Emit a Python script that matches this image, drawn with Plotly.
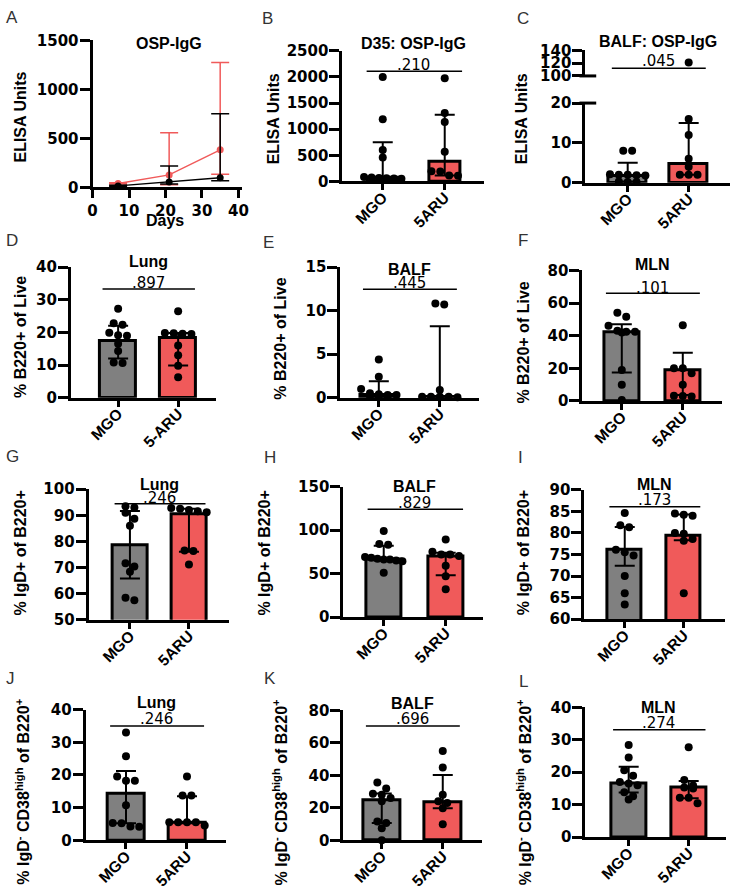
import plotly.graph_objects as go

W, H = 737, 896

# ================= data =================
groups = ["MGO", "5ARU"]
groups_d = ["MGO", "5-ARU"]

# A: OSP-IgG over time (median, interquartile range)
days = [7, 21, 35]
a_mgo_med = [15, 55, 97]
a_mgo_lo = [8, 33, 67]
a_mgo_hi = [22, 217, 750]
a_aru_med = [40, 127, 383]
a_aru_lo = [33, 27, 133]
a_aru_hi = [47, 557, 1275]

# B: D35 OSP-IgG
b_mgo = [2000, 1190, 600, 460, 85, 75, 65, 60, 55, 50]
b_aru = [1975, 1310, 1140, 570, 195, 190, 115, 110]
b_med = [62, 380]; b_lo = [50, 115]; b_hi = [750, 1275]; b_sig = 2110; b_p = ".210"

# C: BALF OSP-IgG (broken axis)
c_mgo = [8, 8, 2.1, 2.0, 2.0, 1.9, 1.8, 0.3, 0.2, 0.2]
c_aru = [121, 16, 12, 6, 4, 2, 2, 2]
c_med = [1.8, 4.8]; c_lo = [0.3, 2.0]; c_hi = [5.0, 15.0]; c_sig = 112; c_p = ".045"

# D-F: % B220+ of Live
d_mgo = [27.2, 22.8, 22.3, 19.9, 19.1, 19.0, 16.5, 14.3, 10.8, 10.6]
d_aru = [26.5, 19.8, 19.7, 19.6, 19.5, 16.0, 13.0, 9.8, 6.3]
d_med = [17.3, 18.3]; d_lo = [12.0, 9.9]; d_hi = [22.0, 19.8]; d_sig = 33.3; d_p = ".897"

e_mgo = [4.4, 2.4, 1.0, 0.5, 0.4, 0.3, 0.3, 0.2, 0.2, 0.1]
e_aru = [10.8, 10.7, 0.9, 0.1, 0.1, 0.1, 0.1, 0.05]
e_med = [0.3, 0.1]; e_lo = [0.1, 0.0]; e_hi = [1.9, 8.2]; e_sig = 12.45; e_p = ".445"

f_mgo = [54, 51.6, 46, 43, 42.4, 42.4, 42, 19, 10, 0.6]
f_aru = [46.4, 20, 20, 17, 10, 3.2, 3.0, 2.8]
f_med = [42, 18.6]; f_lo = [17.4, 3.6]; f_hi = [47, 29.6]; f_sig = 66; f_p = ".101"

# G-I: % IgD+ of B220+
g_mgo = [93.5, 93, 91, 88.7, 86, 71.6, 70.4, 68.4, 58.4, 57.5]
g_aru = [92.8, 92.5, 92, 91.5, 91.2, 76.5, 76.3, 71.2]
g_med = [78.5, 90.4]; g_lo = [65.8, 76.0]; g_hi = [91.6, 92.5]; g_sig = 94.4; g_p = ".246"

h_mgo = [99, 84, 83, 69, 68, 67, 66, 66, 65, 64, 51]
h_aru = [89, 75, 72, 72, 70, 59, 47, 32]
h_med = [66, 69]; h_lo = [65, 48]; h_hi = [82, 74]; h_sig = 124; h_p = ".829"

i_mgo = [84.6, 81.8, 81.3, 76.1, 75.5, 74.8, 70, 66, 63.4]
i_aru = [84.5, 84.2, 84.0, 80.0, 79.8, 78.6, 78.2, 66]
i_med = [76, 79.3]; i_lo = [72.4, 78.3]; i_hi = [81.4, 84.3]; i_sig = 86.1; i_p = ".173"

# J-L: % IgD- CD38high of B220+
j_mgo = [33, 25.7, 19.5, 18.2, 18.2, 10.7, 5.3, 5.2, 4.2, 4.1]
j_aru = [19.5, 13.7, 13.7, 5.5, 5.5, 5.5, 5.5, 4.5]
j_med = [14.2, 5.5]; j_lo = [5.2, 5.2]; j_hi = [21.2, 13.5]; j_sig = 35; j_p = ".246"

k_mgo = [35.6, 31.8, 28.7, 28, 26, 24, 11.5, 10.7, 7.4, 0]
k_aru = [54.9, 44.8, 28, 24, 23, 19.7, 9.8]
k_med = [24.5, 23.5]; k_lo = [10.6, 19.7]; k_hi = [28.8, 40.2]; k_sig = 70.3; k_p = ".696"

l_mgo = [28.4, 24.5, 20.6, 18.9, 17, 16.5, 16, 13.8, 12.6, 11.6]
l_aru = [27.7, 17.6, 15.9, 15.3, 15, 12.1, 12.1, 10.4]
l_med = [16.6, 15.4]; l_lo = [13.7, 12.0]; l_hi = [21.7, 17.3]; l_sig = 33.1; l_p = ".274"

ELISA = "ELISA Units"
B220 = "% B220+ of Live"
IGD = "% IgD+ of B220+"
CD38 = "% IgD<sup>-</sup> CD38<sup>high</sup> of B220<sup>+</sup>"

panel_data = {
    "B": dict(title="D35: OSP-IgG", ytitle=ELISA, labels=groups, pts=[b_mgo, b_aru], med=b_med, lo=b_lo, hi=b_hi, sig=b_sig, p=b_p),
    "C": dict(title="BALF: OSP-IgG", ytitle=ELISA, labels=groups, pts=[c_mgo, c_aru], med=c_med, lo=c_lo, hi=c_hi, sig=c_sig, p=c_p),
    "D": dict(title="Lung", ytitle=B220, labels=groups_d, pts=[d_mgo, d_aru], med=d_med, lo=d_lo, hi=d_hi, sig=d_sig, p=d_p),
    "E": dict(title="BALF", ytitle=B220, labels=groups, pts=[e_mgo, e_aru], med=e_med, lo=e_lo, hi=e_hi, sig=e_sig, p=e_p),
    "F": dict(title="MLN", ytitle=B220, labels=groups, pts=[f_mgo, f_aru], med=f_med, lo=f_lo, hi=f_hi, sig=f_sig, p=f_p),
    "G": dict(title="Lung", ytitle=IGD, labels=groups, pts=[g_mgo, g_aru], med=g_med, lo=g_lo, hi=g_hi, sig=g_sig, p=g_p),
    "H": dict(title="BALF", ytitle=IGD, labels=groups, pts=[h_mgo, h_aru], med=h_med, lo=h_lo, hi=h_hi, sig=h_sig, p=h_p),
    "I": dict(title="MLN", ytitle=IGD, labels=groups, pts=[i_mgo, i_aru], med=i_med, lo=i_lo, hi=i_hi, sig=i_sig, p=i_p),
    "J": dict(title="Lung", ytitle=CD38, labels=groups, pts=[j_mgo, j_aru], med=j_med, lo=j_lo, hi=j_hi, sig=j_sig, p=j_p),
    "K": dict(title="BALF", ytitle=CD38, labels=groups, pts=[k_mgo, k_aru], med=k_med, lo=k_lo, hi=k_hi, sig=k_sig, p=k_p),
    "L": dict(title="MLN", ytitle=CD38, labels=groups, pts=[l_mgo, l_aru], med=l_med, lo=l_lo, hi=l_hi, sig=l_sig, p=l_p),
}

# ================= layout (pixel positions) =================
panel_layout = {
    "B": dict(n=2, left=343, right=487, c0=384, c1=447, top=42.7, bot=176, rng=[0, 2500], ticks=[0, 500, 1000, 1500, 2000, 2500], bw=0.5, ty=35, py=57, yt=(273, 112), let=(267, 10)),
    "C": dict(n=3, left=590, right=737, c0=633, c1=695, top=96, bot=177.3, rng=[0, 20], ticks=[0, 10, 20], bw=0.62, ty=33, py=53, yt=(525, 112), let=(527, 10),
              up=dict(n=13, top=42.3, bot=68.3, rng=[100, 140], ticks=[100, 120, 140])),
    "D": dict(n=4, left=67, right=215, c0=115, c1=176, top=263.3, bot=396.7, rng=[0, 40], ticks=[0, 10, 20, 30, 40], bw=0.6, ty=258, py=280, yt=(16, 335), let=(7, 236)),
    "E": dict(n=5, left=341, right=482, c0=380, c1=442, top=263.3, bot=396.7, rng=[0, 15], ticks=[0, 5, 10, 15], bw=0.6, ty=266, py=280, yt=(280, 336), let=(268, 238)),
    "F": dict(n=6, left=587, right=729, c0=627, c1=689, top=266.7, bot=400, rng=[0, 80], ticks=[0, 20, 40, 60, 80], bw=0.58, ty=261, py=285, yt=(527, 340), let=(527, 236)),
    "G": dict(n=7, left=85, right=228, c0=127, c1=187, top=490, bot=623.3, rng=[50, 100], ticks=[50, 60, 70, 80, 90, 100], bw=0.6, ty=485, py=499, yt=(16, 555), let=(8, 457)),
    "H": dict(n=8, left=344, right=486, c0=385, c1=448, top=487.3, bot=620.5, rng=[0, 150], ticks=[0, 50, 100, 150], bw=0.56, ty=487, py=504, yt=(264, 555), let=(269, 458)),
    "I": dict(n=9, left=589, right=732, c0=630, c1=690, top=490.7, bot=622.7, rng=[60, 90], ticks=[60, 65, 70, 75, 80, 85, 90], bw=0.58, ty=485, py=501, yt=(527, 555), let=(524, 458)),
    "J": dict(n=10, left=82, right=225, c0=123, c1=185, top=715, bot=848.3, rng=[0, 40], ticks=[0, 10, 20, 30, 40], bw=0.6, ty=708, py=725, yt=(18, 799), let=(6, 683)),
    "K": dict(n=11, left=344, right=485, c0=383, c1=445, top=715.7, bot=848.3, rng=[0, 80], ticks=[0, 20, 40, 60, 80], bw=0.6, ty=709, py=725, yt=(280, 799), let=(269, 683)),
    "L": dict(n=12, left=590, right=733, c0=634, c1=695, top=712.7, bot=845, rng=[0, 40], ticks=[0, 10, 20, 30, 40], bw=0.58, ty=713, py=729, yt=(528, 799), let=(527, 686)),
}

GRAY = "#808080"
RED = "#F05A5A"
NUMFONT = dict(family="DejaVu Sans", size=15, color="black", weight="bold")
CATFONT = dict(family="Liberation Sans, Arial", size=15.5, color="black", weight="bold")
TITLEFONT = dict(family="Liberation Sans, Arial", size=16, color="black", weight="bold")
YTFONT = dict(family="Liberation Sans, Arial", size=16, color="black", weight="bold")
PFONT = dict(family="DejaVu Sans", size=15, color="black")
LETFONT = dict(family="Liberation Sans, Arial", size=17, color="#333333")


def fx(p):
    return p / W


def fy(p):
    return 1 - p / H


def sid(n):
    return "" if n == 1 else str(n)


def swarm(vals, ppu_y, ppu_x, d=9.0, maxhalf=19.0):
    """Arrange points in horizontal rows (GraphPad-like scatter)."""
    idx = sorted(range(len(vals)), key=lambda i: -vals[i])
    rows = []
    for i in idx:
        y = vals[i] * ppu_y
        if rows and rows[-1][0] - y < d * 0.7:
            rows[-1][1].append(i)
        else:
            rows.append([y, [i]])
    offs = [0.0] * len(vals)
    for _, members in rows:
        m = len(members)
        if m == 1:
            continue
        step = min(d, 2 * maxhalf / (m - 1))
        for k, i in enumerate(members):
            offs[i] = (k - (m - 1) / 2) * step / ppu_x
    return offs


fig = go.Figure()
lay = {}
annotations = []
shapes = []


def yaxis_style(top, bot, rng, ticks, anchor):
    return dict(domain=[fy(bot), fy(top)], range=rng, tickvals=ticks, showline=True, linewidth=3,
                linecolor="black", ticks="outside", ticklen=10, tickwidth=3, tickcolor="black",
                tickfont=NUMFONT, showgrid=False, zeroline=False, anchor=anchor, fixedrange=True,
                ticklabelstandoff=-2)


def ann(text, x, y, font, xref="paper", angle=0):
    annotations.append(dict(text=text, x=x, y=y, xref=xref, yref="paper", showarrow=False,
                            font=font, xanchor="center", yanchor="middle", textangle=angle))


# ---------------- Panel A ----------------
lay["xaxis"] = dict(domain=[fx(89), fx(241)], range=[0, 41], tickvals=[0, 10, 20, 30, 40], showline=True,
                    linewidth=3, linecolor="black", ticks="outside", ticklen=8, tickwidth=3, tickcolor="black",
                    tickfont=NUMFONT, showgrid=False, zeroline=False, anchor="y", fixedrange=True)
lay["yaxis"] = yaxis_style(32, 182, [0, 1500], [0, 500, 1000, 1500], "x")
for med, lo, hi, col in [(a_aru_med, a_aru_lo, a_aru_hi, RED), (a_mgo_med, a_mgo_lo, a_mgo_hi, "black")]:
    fig.add_trace(go.Scatter(
        x=days, y=med, mode="lines+markers", line=dict(color=col, width=1.5),
        marker=dict(color=col, size=7),
        error_y=dict(type="data", symmetric=False, array=[h - m for h, m in zip(hi, med)],
                     arrayminus=[m - l for m, l in zip(med, lo)], color=col, thickness=1.5, width=9),
        cliponaxis=False, xaxis="x", yaxis="y", showlegend=False))
ann("OSP-IgG", fx(167), fy(35), TITLEFONT)
ann("Days", fx(163), fy(216), TITLEFONT)
ann(ELISA, fx(16), fy(110), YTFONT, angle=-90)
ann("A", fx(7), fy(9), LETFONT)

# ---------------- bar panels ----------------
for key, L in panel_layout.items():
    D = panel_data[key]
    n = L["n"]
    xs, ys = "x" + sid(n), "y" + sid(n)
    sp = L["c1"] - L["c0"]
    xr = [(L["left"] - L["c0"]) / sp, 1 + (L["right"] - L["c1"]) / sp]
    lay["xaxis" + sid(n)] = dict(domain=[fx(L["left"]), fx(L["right"])], range=xr, tickvals=[0, 1],
                                 ticktext=D["labels"], tickangle=-45, showline=True, linewidth=3,
                                 linecolor="black", ticks="outside", ticklen=6, tickwidth=2.5,
                                 tickcolor="black", tickfont=CATFONT, showgrid=False, zeroline=False,
                                 anchor=ys, fixedrange=True, ticklabelstandoff=-8)
    lay["yaxis" + sid(n)] = yaxis_style(L["top"], L["bot"], L["rng"], L["ticks"], xs)
    ppu_y = (L["bot"] - L["top"]) / (L["rng"][1] - L["rng"][0])

    med, lo, hi = D["med"], D["lo"], D["hi"]
    fig.add_trace(go.Bar(
        x=[0, 1], y=med, width=L["bw"],
        marker=dict(color=[GRAY, RED], line=dict(color="black", width=3)),
        error_y=dict(type="data", symmetric=False, array=[h - m for h, m in zip(hi, med)],
                     arrayminus=[m - l for m, l in zip(med, lo)], color="black", thickness=2, width=10),
        xaxis=xs, yaxis=ys, showlegend=False))

    up = L.get("up")
    sig_x, sig_y = xs, ys
    for gi, vals in enumerate(D["pts"]):
        low_vals = [v for v in vals if up is None or v <= L["rng"][1]]
        offs = swarm(low_vals, ppu_y, sp)
        fig.add_trace(go.Scatter(x=[gi + o for o in offs], y=low_vals, mode="markers",
                                 marker=dict(color="black", size=8), cliponaxis=False,
                                 xaxis=xs, yaxis=ys, showlegend=False))
    if up is not None:
        un = up["n"]
        uxs, uys = "x" + sid(un), "y" + sid(un)
        lay["xaxis" + sid(un)] = dict(domain=[fx(L["left"]), fx(L["right"])], range=xr, visible=False,
                                      anchor=uys, fixedrange=True)
        lay["yaxis" + sid(un)] = yaxis_style(up["top"], up["bot"], up["rng"], up["ticks"], uxs)
        uppu = (up["bot"] - up["top"]) / (up["rng"][1] - up["rng"][0])
        for gi, vals in enumerate(D["pts"]):
            hv = [v for v in vals if v > L["rng"][1]]
            if hv:
                offs = swarm([v - up["rng"][0] for v in hv], uppu, sp)
                fig.add_trace(go.Scatter(x=[gi + o for o in offs], y=hv, mode="markers",
                                         marker=dict(color="black", size=8), cliponaxis=False,
                                         xaxis=uxs, yaxis=uys, showlegend=False))
        sig_x, sig_y = uxs, uys
        # axis-break marks
        for ypx in (up["bot"], L["top"]):
            shapes.append(dict(type="line", xref="paper", yref="paper", x0=fx(L["left"] - 6),
                               x1=fx(L["left"] + 11), y0=fy(ypx), y1=fy(ypx),
                               line=dict(color="black", width=3)))

    shapes.append(dict(type="line", xref=sig_x, yref=sig_y, x0=-0.26, x1=1.28, y0=D["sig"], y1=D["sig"],
                       line=dict(color="black", width=1.5)))
    ann(D["title"], 0.5, fy(L["ty"]), TITLEFONT, xref=xs)
    ann(D["p"], 0.5, fy(L["py"]), PFONT, xref=xs)
    ann(D["ytitle"], fx(L["yt"][0]), fy(L["yt"][1]), YTFONT, angle=-90)
    ann(key, fx(L["let"][0]), fy(L["let"][1]), LETFONT)

fig.update_layout(width=W, height=H, margin=dict(l=0, r=0, t=0, b=0), paper_bgcolor="white",
                  plot_bgcolor="white", showlegend=False, bargap=0, annotations=annotations,
                  shapes=shapes, **lay)
fig.write_html("out.html", config={"displayModeBar": False},
               post_script="document.body.style.margin='0';document.body.style.overflow='hidden';")
